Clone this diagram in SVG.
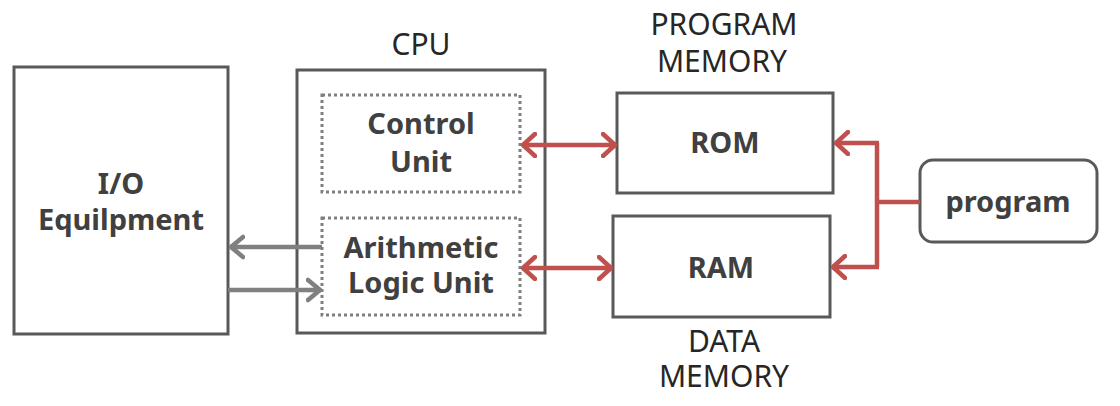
<svg xmlns="http://www.w3.org/2000/svg" width="1120" height="406" viewBox="0 0 1120 406">
<defs>
<style>
.box{fill:#fff;stroke:#595959;stroke-width:3}
.dash{fill:none;stroke:#7f7f7f;stroke-width:3;stroke-dasharray:3 3}
.lbl{font-family:"Noto Sans","Open Sans",sans-serif;font-weight:bold;font-size:29px;fill:#404040;text-anchor:middle}
.cap{font-family:"Noto Sans","Open Sans",sans-serif;font-size:30px;fill:#262626;text-anchor:middle}
.red{fill:none;stroke:#c0504d;stroke-width:4.5}
.gray{fill:none;stroke:#808080;stroke-width:4.5}
</style>
<marker id="ar" viewBox="0 0 16 26" refX="15" refY="13" markerWidth="16" markerHeight="26" markerUnits="userSpaceOnUse" orient="auto-start-reverse">
<path d="M2 2 L14 13 L2 24" fill="none" stroke="#c0504d" stroke-width="4.5" stroke-linecap="round" stroke-linejoin="round"/>
</marker>
<marker id="ag" viewBox="0 0 16 26" refX="15" refY="13" markerWidth="16" markerHeight="26" markerUnits="userSpaceOnUse" orient="auto">
<path d="M2 3 L14 13 L2 23" fill="none" stroke="#808080" stroke-width="4.5" stroke-linecap="round" stroke-linejoin="round"/>
</marker>
</defs>
<rect width="1120" height="406" fill="#fff"/>
<g id="io">
<rect class="box" x="14" y="67" width="214" height="267"/>
<text class="lbl" x="121" y="194">I/O</text>
<text class="lbl" x="121" y="230">Equilpment</text>
</g>
<g id="cpu">
<text class="cap" x="421" y="55">CPU</text>
<rect class="box" x="297" y="70" width="248" height="263"/>
</g>
<g id="cu">
<rect class="dash" x="322" y="95" width="198" height="97"/>
<text class="lbl" x="421" y="134">Control</text>
<text class="lbl" x="421" y="172">Unit</text>
</g>
<g id="alu">
<rect class="dash" x="322" y="218" width="198" height="97"/>
<text class="lbl" x="421" y="258">Arithmetic</text>
<text class="lbl" x="421" y="293">Logic Unit</text>
</g>
<g id="rom">
<text class="cap" x="724" y="35">PROGRAM</text>
<text class="cap" x="722" y="72">MEMORY</text>
<rect class="box" x="617" y="93" width="216" height="100"/>
<text class="lbl" x="725" y="153">ROM</text>
</g>
<g id="ram">
<rect class="box" x="613" y="216" width="217" height="101"/>
<text class="lbl" x="721" y="278">RAM</text>
<text class="cap" x="724" y="352">DATA</text>
<text class="cap" x="724" y="387">MEMORY</text>
</g>
<g id="program">
<rect class="box" x="920" y="160" width="177" height="82" rx="13"/>
<text class="lbl" x="1008" y="212">program</text>
</g>
<g id="connectors">
<line class="red" x1="522" y1="145" x2="616" y2="145" marker-start="url(#ar)" marker-end="url(#ar)"/>
<line class="red" x1="522" y1="268" x2="612" y2="268" marker-start="url(#ar)" marker-end="url(#ar)"/>
<polyline class="red" points="920,202 877,202"/>
<polyline class="red" points="877,143 877,267"/>
<line class="red" x1="879" y1="143" x2="835" y2="143" marker-end="url(#ar)"/>
<line class="red" x1="879" y1="267" x2="832" y2="267" marker-end="url(#ar)"/>
<line class="gray" x1="322" y1="247" x2="230" y2="247" marker-end="url(#ag)"/>
<line class="gray" x1="228" y1="290" x2="321" y2="290" marker-end="url(#ag)"/>
</g>
</svg>
